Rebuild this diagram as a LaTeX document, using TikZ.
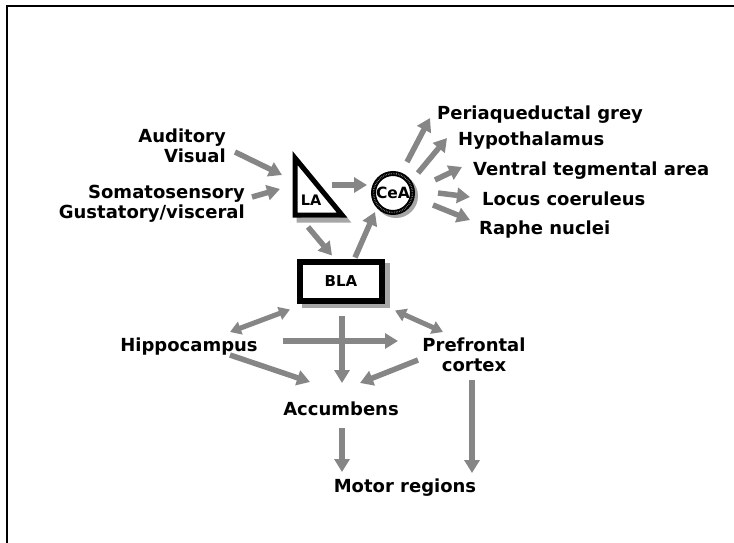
\documentclass[tikz,border=0pt]{standalone}
\usepackage{fontspec}
\setmainfont{DejaVu Sans}
\usetikzlibrary{arrows.meta}

\begin{document}
\begin{tikzpicture}[x=1pt,y=-1pt,
    lbl/.style={inner sep=0pt,font=\bfseries\fontsize{18}{20}\selectfont},
    arr/.style={draw=gray!95,line width=5.5pt,-{Triangle[length=13pt,width=15pt]}},
    darr/.style={draw=gray!95,line width=5pt,{Triangle[length=11pt,width=13pt]}-{Triangle[length=11pt,width=13pt]}},
    shadowline/.style={draw=gray!70,line width=5pt}]
\useasboundingbox (0,0) rectangle (734,543);
\draw[line width=2pt] (7,543) -- (7,6.5) -- (734,6.5);
% inputs
\node[lbl,anchor=base east] (aud) at (226,142) {Auditory};
\node[lbl,anchor=base east] (vis) at (226,162) {Visual};
\node[lbl,anchor=base east] (som) at (245,198) {Somatosensory};
\node[lbl,anchor=base east] (gus) at (245,218) {Gustatory/visceral};
% LA
\draw[shadowline] (299,163) -- (299,220) -- (346,220) -- cycle;
\draw[line width=5pt,fill=white] (295,158) -- (295,215) -- (342,215) -- cycle;
\node[inner sep=0pt,font=\bfseries\fontsize{14.5}{16}\selectfont] (la) at (311,200) {LA};
% CeA
\draw[shadowline] (396,196) circle [radius=19.5];
\node[circle,draw,fill=white,line width=5pt,minimum size=39pt,inner sep=0pt,font=\bfseries\fontsize{15.5}{17}\selectfont] (cea) at (393,193) {CeA};
\draw[gray!60,line width=1.4pt,dash pattern=on 0.4pt off 1.3pt] (cea.center) circle [radius=19.5];
% BLA
\draw[shadowline,line width=6pt] (305,266) rectangle (387,305);
\node[draw,fill=white,line width=6pt,minimum width=82pt,minimum height=39pt,inner sep=0pt,font=\bfseries\fontsize{15}{17}\selectfont] (bla) at (341,281) {BLA};
% CeA targets
\node[lbl,anchor=base west] (pag) at (437,120) {Periaqueductal grey};
\node[lbl,anchor=base west] (hyp) at (458,145) {Hypothalamus};
\node[lbl,anchor=base west] (vta) at (473,175) {Ventral tegmental area};
\node[lbl,anchor=base west] (lc) at (482,205) {Locus coeruleus};
\node[lbl,anchor=base west] (rn) at (479,234) {Raphe nuclei};
% lower part
\node[lbl,anchor=base] (hip) at (189,351) {Hippocampus};
\node[lbl,align=center] (pfc) at (474,355) {Prefrontal\\cortex};
\node[lbl,anchor=base] (acc) at (341,415) {Accumbens};
\node[lbl,anchor=base] (mot) at (405,492) {Motor regions};
% connections
\draw[arr] ([shift={(9,-10)}]vis.base east) -- ([shift={(-29,-25)}]la.center);
\draw[arr] ([shift={(7,-1)}]som.base east) -- ([shift={(-31,-11)}]la.center);
\draw[arr] ([shift={(21,-15)}]la.center) -- ([shift={(-26,-8)}]cea.center);
\draw[arr] ([shift={(-3,27)}]la.center) -- ([shift={(-9,-25.5)}]bla.center);
\draw[arr] ([shift={(14,-23.5)}]bla.center) -- ([shift={(-18,19)}]cea.center);
\draw[arr] ([shift={(14,-31)}]cea.center) -- ([shift={(-7,-2)}]pag.base west);
\draw[arr] ([shift={(25,-20)}]cea.center) -- ([shift={(-11,-7)}]hyp.base west);
\draw[arr] ([shift={(42,-13)}]cea.center) -- ([shift={(-11,-8)}]vta.base west);
\draw[arr] ([shift={(45,0)}]cea.center) -- ([shift={(-12,-8)}]lc.base west);
\draw[arr] ([shift={(40,12)}]cea.center) -- ([shift={(-9,-14)}]rn.base west);
\draw[darr] ([shift={(41,-19)}]hip.base) -- ([shift={(-51,28.5)}]bla.center);
\draw[darr] ([shift={(54,29.5)}]bla.center) -- ([shift={(-31,-23)}]pfc.center);
\draw[arr] ([shift={(94,-10)}]hip.base) -- ([shift={(-76,-14)}]pfc.center);
\draw[arr] ([shift={(1,34.5)}]bla.center) -- ([shift={(1,-32)}]acc.base);
\draw[arr] ([shift={(41,4)}]hip.base) -- ([shift={(-31,-33)}]acc.base);
\draw[arr] ([shift={(-56,5)}]pfc.center) -- ([shift={(19,-32)}]acc.base);
\draw[arr] ([shift={(1,13)}]acc.base) -- ([shift={(-63,-20)}]mot.base);
\draw[arr] ([shift={(-2,25)}]pfc.center) -- ([shift={(67,-19)}]mot.base);
\end{tikzpicture}
\end{document}
